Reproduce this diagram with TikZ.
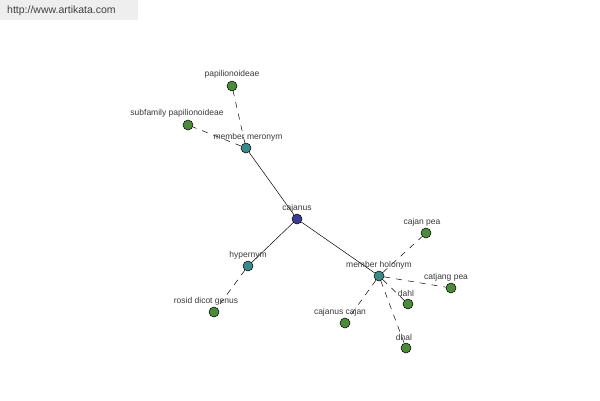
\documentclass[tikz,border=0pt]{standalone}
\usepackage{fontspec}
\setmainfont{Liberation Sans}
\definecolor{nblue}{HTML}{3C3C96}
\definecolor{nteal}{HTML}{3A8A8A}
\definecolor{ngreen}{HTML}{4A8A3A}
\definecolor{lbl}{HTML}{3A3A3A}
\definecolor{wm}{HTML}{EEEEEE}
\begin{document}
\begin{tikzpicture}[x=1pt,y=-1pt,
  dot/.style={circle,draw=black,line width=0.5pt,minimum size=10pt,inner sep=0pt},
  root/.style={dot,fill=nblue},
  rel/.style={dot,fill=nteal},
  leaf/.style={dot,fill=ngreen},
  lab/.style={font=\fontsize{8.5}{9}\selectfont,text=lbl,inner sep=0pt},
  solidedge/.style={draw=black,line width=0.5pt},
  dashedge/.style={draw=black,line width=0.5pt,dash pattern=on 6pt off 6pt}]
\useasboundingbox (0,0) rectangle (600,400);
\fill[white] (0,0) rectangle (600,400);
\fill[wm] (0,0) rectangle (138,20);
\node[font=\fontsize{10.5}{11}\selectfont,text=black!75,anchor=west,inner sep=0pt] (wmt) at (7,11) {http://www.artikata.com};
% nodes
\node[root] (caj) at (297,219) {};
\node[rel] (mer) at (246,148) {};
\node[leaf] (pap) at (232,86) {};
\node[leaf] (sub) at (188,125) {};
\node[rel] (hyp) at (248,266) {};
\node[leaf] (ros) at (214,312) {};
\node[rel] (hol) at (379,276) {};
\node[leaf] (cpe) at (426,233) {};
\node[leaf] (cat) at (451,288) {};
\node[leaf] (dahl) at (408,304) {};
\node[leaf] (cc) at (345,323) {};
\node[leaf] (dhal) at (406,348) {};
% edges
\draw[solidedge] (caj) -- (mer);
\draw[solidedge] (caj) -- (hyp);
\draw[solidedge] (caj) -- (hol);
\draw[dashedge] (mer) -- (pap);
\draw[dashedge] (mer) -- (sub);
\draw[dashedge] (hyp) -- (ros);
\draw[dashedge] (hol) -- (cpe);
\draw[dashedge] (hol) -- (cat);
\draw[dashedge] (hol) -- (dahl);
\draw[dashedge] (hol) -- (cc);
\draw[dashedge] (hol) -- (dhal);
% labels
\node[lab] (lcaj) at (297,208) {cajanus};
\node[lab] (lmer) at (248,137) {member meronym};
\node[lab] (lpap) at (232,74) {papilionoideae};
\node[lab] (lsub) at (177,113) {subfamily papilionoideae};
\node[lab] (lhyp) at (248,255) {hypernym};
\node[lab] (lros) at (206,301) {rosid dicot genus};
\node[lab] (lhol) at (379,265) {member holonym};
\node[lab] (lcpe) at (422,222) {cajan pea};
\node[lab] (lcat) at (446,277) {catjang pea};
\node[lab] (ldahl) at (406,293) {dahl};
\node[lab] (lcc) at (340,312) {cajanus cajan};
\node[lab] (ldhal) at (404,337) {dhal};
\end{tikzpicture}
\end{document}
